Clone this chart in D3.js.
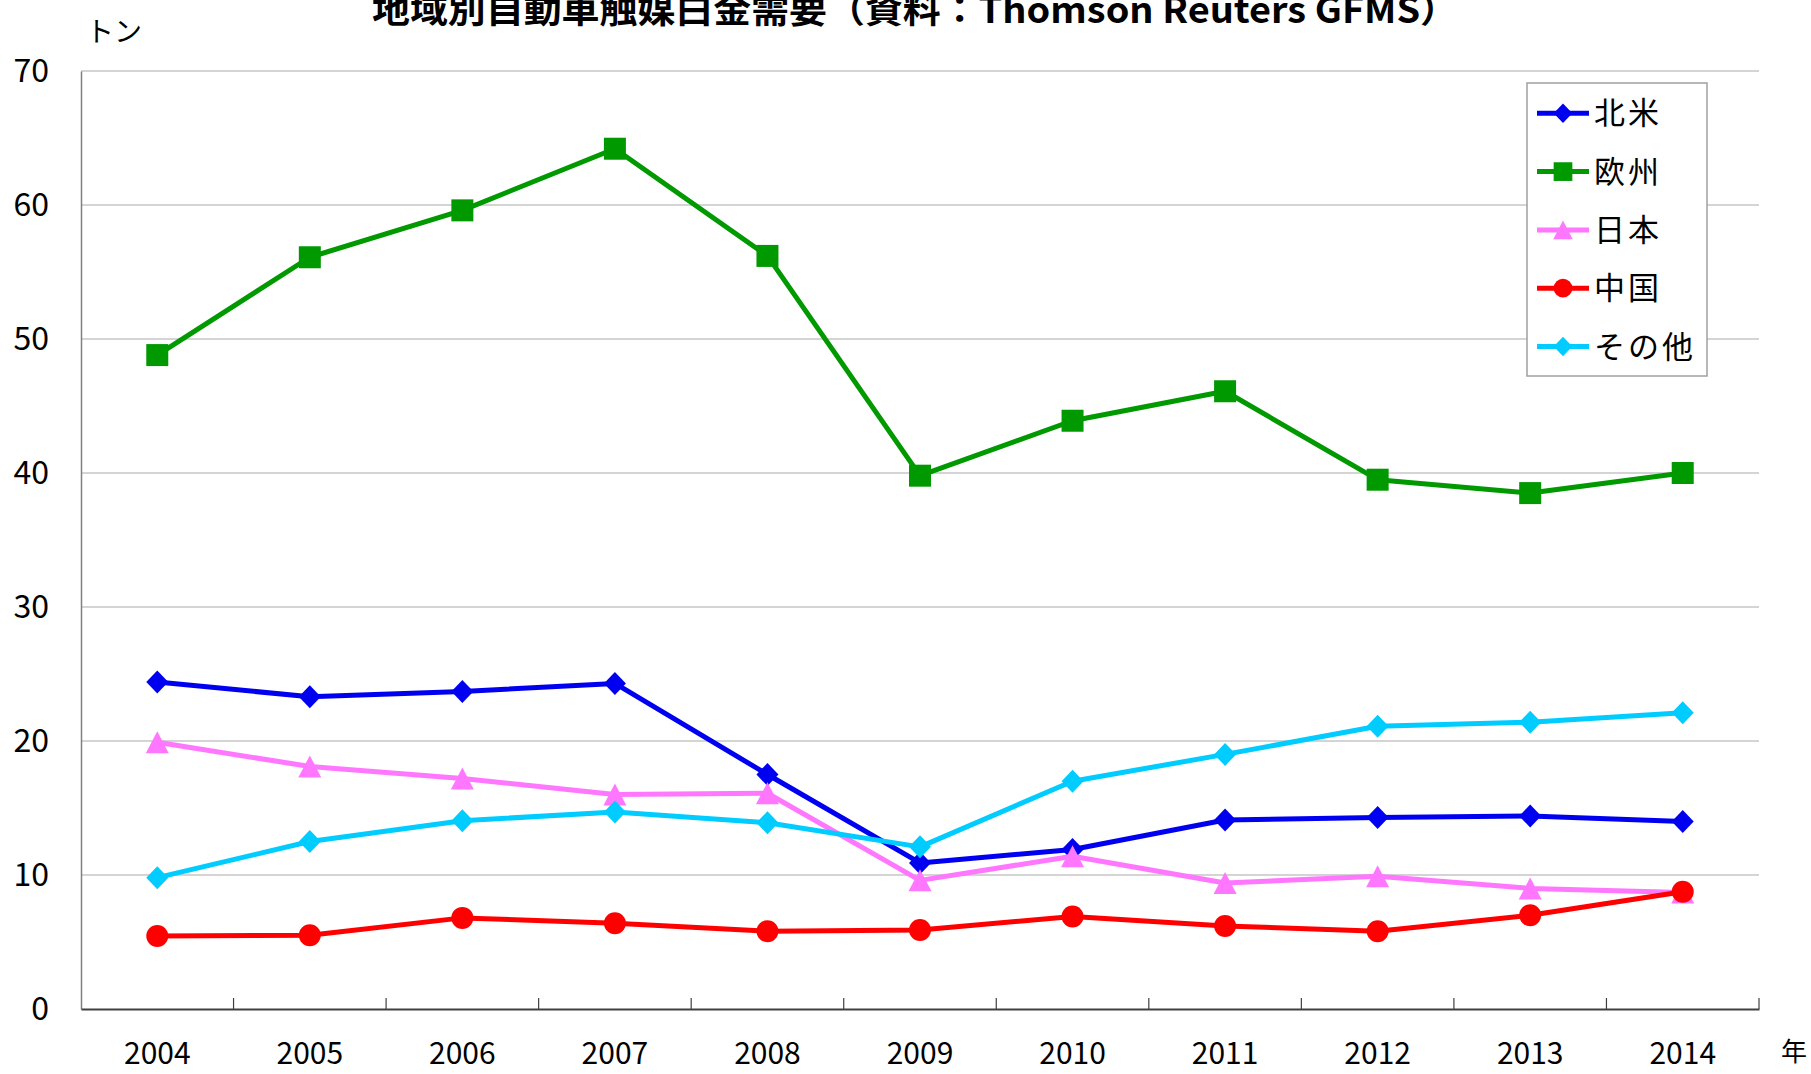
<!DOCTYPE html>
<html><head><meta charset="utf-8">
<script src="https://cdn.jsdelivr.net/npm/d3@7"></script>
<style>html,body{margin:0;padding:0;background:#fff;overflow:hidden}</style>
</head><body>
<svg id="chart" width="1811" height="1074"></svg>
<script>
const years = ["2004","2005","2006","2007","2008","2009","2010","2011","2012","2013","2014"];
const seriesNames = ["北米","欧州","日本","中国","その他"];
const northAmerica = [24.4,23.3,23.7,24.3,17.5,10.9,11.9,14.1,14.3,14.4,14.0];
const europe = [48.8,56.1,59.6,64.2,56.2,39.8,43.9,46.1,39.5,38.5,40.0];
const japan = [19.9,18.1,17.2,16.0,16.1,9.6,11.4,9.4,9.9,9.0,8.7];
const china = [5.45,5.5,6.8,6.4,5.8,5.9,6.9,6.2,5.8,7.0,8.75];
const others = [9.8,12.5,14.05,14.7,13.9,12.1,17.0,19.0,21.1,21.4,22.1];
const yTicks = [0,10,20,30,40,50,60,70];
const colors = ["#0000F0","#009900","#FF77FF","#FF0000","#00CCFF"];
const markers = ["diamond","square","triangle","circle","diamond"];
const titleText = "地域別自動車触媒白金需要（資料：Thomson Reuters GFMS）";
const yUnit = "トン";
const xUnit = "年";

const allValues = [northAmerica, europe, japan, china, others];
const font = "'Noto Sans CJK JP', 'Noto Sans', sans-serif";
const svg = d3.select("#chart");
const L = 81, R = 1759, T = 71, B = 1009;
const x = d3.scaleBand().domain(years).range([L, R]).padding(0);
const y = d3.scaleLinear().domain([0, 70]).range([B, T]);

// gridlines
svg.append("g").selectAll("line").data(yTicks.filter(d => d > 0)).join("line")
  .attr("x1", L).attr("x2", R).attr("y1", d => y(d)).attr("y2", d => y(d))
  .attr("stroke", "#d4d4d4").attr("stroke-width", 2);

// y axis
const yAxis = svg.append("g").attr("transform", `translate(${L},0)`)
  .call(d3.axisLeft(y).tickValues(yTicks).tickSize(0).tickPadding(32));
yAxis.select(".domain").attr("stroke", "#808080").attr("stroke-width", 1.5);
yAxis.selectAll("text").attr("font-family", font).attr("font-size", 32).attr("fill", "#000");

// x axis
const xAxis = svg.append("g").attr("transform", `translate(0,${B})`)
  .call(d3.axisBottom(x).tickSize(0).tickPadding(34));
xAxis.select(".domain").attr("stroke", "#404040").attr("stroke-width", 2);
xAxis.selectAll("text").attr("font-family", font).attr("font-size", 30).attr("fill", "#000");
// boundary ticks pointing inward
svg.append("g").selectAll("line").data(years).join("line")
  .attr("x1", d => x(d) + x.bandwidth()).attr("x2", d => x(d) + x.bandwidth())
  .attr("y1", B).attr("y2", B - 11).attr("stroke", "#404040").attr("stroke-width", 1.2);

function markerPath(type) {
  if (type === "diamond") return "M0,-11.5L11,0L0,11.5L-11,0Z";
  if (type === "square") return "M-11,-11H11V11H-11Z";
  if (type === "triangle") return "M0,-11L11.5,11L-11.5,11Z";
  return d3.symbol().type(d3.symbolCircle).size(Math.PI * 121)();
}

const line = d3.line().x((d, i) => x(years[i]) + x.bandwidth() / 2).y(d => y(d));
allValues.forEach((vals, si) => {
  const g = svg.append("g");
  g.append("path").attr("d", line(vals)).attr("fill", "none")
    .attr("stroke", colors[si]).attr("stroke-width", 5).attr("stroke-linejoin", "round");
  g.selectAll("path.m").data(vals).join("path").attr("class", "m")
    .attr("d", markerPath(markers[si]))
    .attr("transform", (d, i) => `translate(${x(years[i]) + x.bandwidth() / 2},${y(d)})`)
    .attr("fill", colors[si]);
});

// title
svg.append("text").attr("x", 915).attr("y", 23).attr("text-anchor", "middle")
  .attr("font-family", font).attr("font-weight", "bold").attr("font-size", 36)
  .attr("textLength", 1086).attr("lengthAdjust", "spacingAndGlyphs")
  .text(titleText);
svg.append("text").attr("x", 86).attr("y", 42).attr("font-family", font)
  .attr("font-size", 28).text(yUnit);
svg.append("text").attr("x", 1781).attr("y", 1061).attr("font-family", font)
  .attr("font-size", 26).text(xUnit);

// legend
const lg = svg.append("g");
lg.append("rect").attr("x", 1527).attr("y", 83).attr("width", 180).attr("height", 293)
  .attr("fill", "#fff").attr("stroke", "#a0a0a0").attr("stroke-width", 1.5);
seriesNames.forEach((name, i) => {
  const cy = 113.3 + i * 58.3;
  lg.append("line").attr("x1", 1537).attr("x2", 1589).attr("y1", cy).attr("y2", cy)
    .attr("stroke", colors[i]).attr("stroke-width", 5);
  lg.append("path").attr("d", markerPath(markers[i])).attr("transform", `translate(1563,${cy}) scale(0.85)`)
    .attr("fill", colors[i]);
  lg.append("text").attr("x", 1594).attr("y", cy).attr("dy", "0.36em")
    .attr("font-family", font).attr("font-size", 31).attr("letter-spacing", 3).text(name);
});
</script>
</body></html>
